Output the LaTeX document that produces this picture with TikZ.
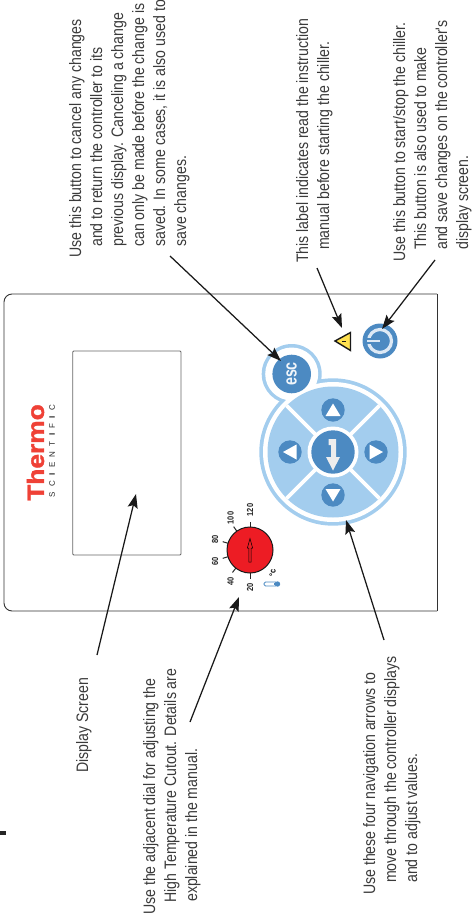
\documentclass[tikz,border=0pt]{standalone}
\usepackage{fontspec}
\usetikzlibrary{arrows.meta,shapes.geometric,calc}
\setmainfont{Liberation Sans}
\newfontfamily\notefont[FakeStretch=0.85]{Liberation Sans}
\newfontfamily\logofont[FakeStretch=1.12,FakeBold=1.6]{Liberation Sans Bold}
\newfontfamily\dialfont[FakeStretch=0.85]{Liberation Sans Bold}
\newfontfamily\escfont[FakeStretch=0.75]{Liberation Sans Bold}
\definecolor{navlight}{HTML}{A3CDEE}
\definecolor{navblue}{HTML}{4C8AC2}
\definecolor{ink}{HTML}{3A3A3A}
\definecolor{dialred}{HTML}{ED1C24}
\definecolor{logored}{HTML}{EF4136}
\definecolor{warn}{HTML}{FFE14F}
\definecolor{ringpale}{HTML}{DDE9F5}
\newcommand{\gap}[1]{\hspace*{#1pt}}
\tikzset{
  x=1pt,y=-1pt,
  note/.style={rotate=90,anchor=north west,align=left,inner sep=0pt,text=ink,
    font=\notefont\fontsize{16.6}{21}\selectfont},
  callout/.style={draw=black!90,line width=1.25pt,-{Stealth[length=14pt,width=10pt,inset=2.5pt]}},
  disc/.style={circle,inner sep=0pt,minimum size=#1},
  padarrow/.style={disc=23.4pt,fill=navblue},
  padtri/.style={fill=white},
  ticklabel/.style={rotate=90,inner sep=0pt,font=\dialfont\fontsize{8.8}{9}\selectfont,text=black!85},
  dialtick/.style={line width=1pt,black!85},
  panelline/.style={draw=black!80,line width=.9pt},
}
\begin{document}
\begin{tikzpicture}
\useasboundingbox (0,0) rectangle (471,917);
% stray mark
\fill[black!85] (0,831) rectangle (6,835);
% panel
\draw[panelline,rounded corners=8pt] (437,294) -- (4,294) -- (4,611) -- (437,611);
\draw[panelline] (437,294) -- (437,611);
\draw[panelline,draw=black!60,rounded corners=1pt] (72.7,351) rectangle (181,555);
% logo
\node[rotate=90,inner sep=0pt,text=logored,font=\logofont\fontsize{23.5}{24}\selectfont] (thermo) at (35.5,452.5) {Thermo};
\node[rotate=90,inner sep=0pt,font=\fontsize{8}{8}\selectfont,text=black!85] (scientific) at (52,451) {\makebox[92pt][s]{S\hfill C\hfill \textbf{I}\hfill E\hfill N\hfill T\hfill \textbf{I}\hfill F\hfill \textbf{I}\hfill C}};
% keypad background
\node[disc=147.4pt,fill=navlight] (navouter) at (333,452) {};
\node[disc=60pt,fill=navlight] (escouter) at (291.7,374) {};
\node[disc=140pt,fill=white] (navwhite) at (333,452) {};
\node[disc=53pt,fill=white] (escwhite) at (291.7,374) {};
\node[disc=131pt,fill=navlight] (navpad) at (333,452) {};
\draw[white,line width=3.6pt] (navpad.north west) -- (navpad.south east);
\draw[white,line width=3.6pt] (navpad.north east) -- (navpad.south west);
\node[disc=51pt,fill=white] (centerwhite) at (333,452) {};
\node[disc=43.4pt,fill=navblue] (center) at (333,452) {};
\fill[white!93!black] (328.5,439) -- (336,439) -- (336,457) -- (340,457) -- (333,470.5) -- (326,457) -- (331,457) -- (331,445) -- (328.5,445) -- cycle;
\node[padarrow] (up) at (333,410) {};
\node[padarrow] (down) at (333,495) {};
\node[padarrow] (left) at (290,452) {};
\node[padarrow] (right) at (376,452) {};
\fill[padtri] (333,403.5) -- (340.5,416) -- (325.5,416) -- cycle;
\fill[padtri] (333,501.5) -- (340.5,489) -- (325.5,489) -- cycle;
\fill[padtri] (283,452) -- (296.5,444.5) -- (296.5,459.5) -- cycle;
\fill[padtri] (383,452) -- (369.5,444.5) -- (369.5,459.5) -- cycle;
% esc
\node[disc=38.6pt,fill=navblue,text=white!92!navblue] (esc) at (291.7,374) {\rotatebox{90}{\escfont\fontsize{19}{19}\selectfont esc}};
% warning label
\fill[warn,draw=black!90,line width=1.4pt,line join=miter] (335,341) -- (350.5,332.5) -- (350.5,350.5) -- cycle;
\draw[black!90,line width=.8pt] (342,341) -- (346,341);
% power
\node[disc=35pt,fill=navblue] (power) at (380,341) {};
\node[disc=23pt,draw=ringpale,line width=3.2pt] (powerring) at (380,341) {};
\draw[navblue,line width=5.4pt] (366,341) -- (371,341);
\draw[ringpale,line width=1.8pt] (367,341) -- (380,341);
% dial
\foreach \a in {270,232,197,163,125,90}
  \draw[dialtick] ($(250,550)+(\a:23pt)$) -- ($(250,550)+(\a:28.5pt)$);
\node[disc=46pt,fill=dialred,draw=black!90,line width=1pt] (dial) at (250,550) {};
\draw[black,line width=.5pt,fill=dialred] (250,538.5) -- (252.6,548) -- (251.2,548) -- (251.2,562) -- (248.8,562) -- (248.8,548) -- (247.4,548) -- cycle;
\node[ticklabel] (t20) at (250,587) {20};
\node[ticklabel] (t40) at (230.7,581) {40};
\node[ticklabel] (t60) at (215,561) {60};
\node[ticklabel] (t80) at (215,539) {80};
\node[ticklabel] (t100) at (230.7,518) {100};
\node[ticklabel] (t120) at (250,510) {120};
\node[ticklabel,text=black] (deg) at (272.5,573) {°c};
\draw[navblue,line width=.8pt,fill=white,rounded corners=1.5pt] (264,582) rectangle (277,586);
\fill[navblue] (274,583) rectangle (277,585);
\node[disc=5.4pt,fill=navblue] (bulb) at (277.5,584) {};
% notes
\node[note] (escnote) at (69,258) {Use this button to cancel any changes\\
\gap{11}and to return the controller to its\\
\gap{11}previous display. Canceling a change\\
\gap{11}can only be made before the change is\\
\gap{11}saved. In some cases, it is also used to\\
\gap{11}save changes.};
\node[note] (labelnote) at (296,263) {This label indicates read the instruction\\
\gap{13}manual before starting the chiller.};
\node[note] (powernote) at (393,262) {Use this button to start/stop the chiller.\\
\gap{12}This button is also used to make\\
\gap{12}and save changes on the controller's\\
\gap{12}display screen.};
\node[note] (displaynote) at (76,773) {Display Screen};
\node[note] (dialnote) at (143,915) {Use the adjacent dial for adjusting the\\
\gap{12}High Temperature Cutout. Details are\\
\gap{13}explained in the manual.};
\node[note] (navnote) at (363,895) {Use these four navigation arrows to\\
\gap{12}move through the controller displays\\
\gap{12}and to adjust values.};
% callouts
\coordinate (c1s) at (170,256); \coordinate (c1e) at (281,361);
\coordinate (c2s) at (317,268); \coordinate (c2e) at (342,328);
\coordinate (c3s) at (435,260); \coordinate (c3e) at (382,329);
\coordinate (c4s) at (97,655);  \coordinate (c4e) at (136,494);
\coordinate (c5s) at (190,722); \coordinate (c5e) at (239,597);
\coordinate (c6s) at (384,640); \coordinate (c6e) at (346,520);
\draw[callout] (c1s) -- (c1e);
\draw[callout] (c2s) -- (c2e);
\draw[callout] (c3s) -- (c3e);
\draw[callout] (c4s) -- (c4e);
\draw[callout] (c5s) -- (c5e);
\draw[callout] (c6s) -- (c6e);
\end{tikzpicture}
\end{document}
